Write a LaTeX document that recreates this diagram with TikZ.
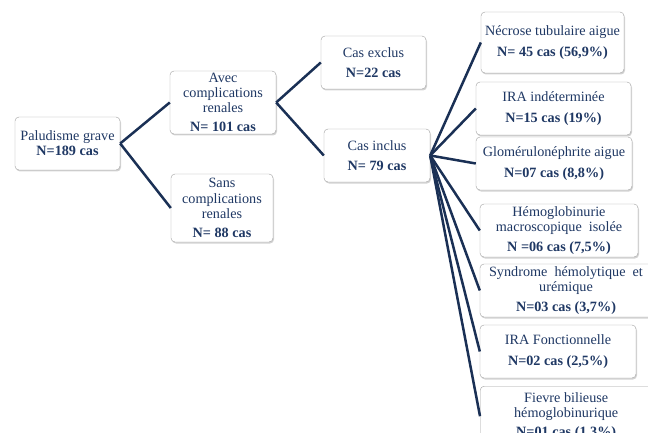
\documentclass[tikz,border=0pt]{standalone}
\usepackage{fontspec}
\setmainfont{Liberation Serif}
\usetikzlibrary{shadows}
\definecolor{navy}{HTML}{1F3864}
\definecolor{boxline}{HTML}{A0A0A0}
\tikzset{
  box/.style={draw=boxline, fill=white, rounded corners=4pt, align=center,
    text=navy, font=\fontsize{14.2}{15.2}\selectfont, inner sep=0pt,
    drop shadow={shadow xshift=1pt, shadow yshift=-1.5pt, opacity=0.35}},
  link/.style={draw=navy!85!black, line width=2.5pt}
}
\begin{document}
\begin{tikzpicture}[x=1pt, y=-1pt]
  \useasboundingbox (0,0) rectangle (648,433);
  \clip (0,0) rectangle (648,433);
  % first level
  \node[box, minimum width=105, minimum height=53] (pg) at (67.5,143.5) {Paludisme grave\\\textbf{N=189 cas}};
  \node[box, minimum width=106, minimum height=63] (avec) at (223,102.5) {Avec\\complications\\renales\\[4pt]\textbf{N= 101 cas}};
  \node[box, minimum width=102, minimum height=68] (sans) at (222,208) {Sans\\complications\\renales\\[4pt]\textbf{N= 88 cas}};
  % second level
  \node[box, minimum width=105, minimum height=53] (exclus) at (373.5,62.5) {Cas exclus\\[5pt]\textbf{N=22 cas}};
  \node[box, minimum width=106, minimum height=53] (inclus) at (377,155.5) {Cas inclus\\[5pt]\textbf{N= 79 cas}};
  % inclus
  \node[box, minimum width=143, minimum height=61] (necrose) at (552.5,42.5) {Nécrose tubulaire aigue\\[5pt]\textbf{N= 45 cas (56,9\%)}};
  \node[box, minimum width=155, minimum height=53] (iraind) at (553.5,108.5) {IRA indéterminée\\[5pt]\textbf{N=15 cas (19\%)}};
  \node[box, minimum width=156, minimum height=53] (glom) at (554,163.5) {Glomérulonéphrite aigue\\[5pt]\textbf{N=07 cas (8,8\%)}};
  \node[box, minimum width=158, minimum height=53] (hemo) at (559,230.5) {Hémoglobinurie\\macroscopique~ isolée\\[4pt]\textbf{N =06 cas (7,5\%)}};
  \node[box, minimum width=172, minimum height=53] (syndrome) at (566,290.5) {Syndrome~ hémolytique~ et\\urémique\\[4pt]\textbf{N=03 cas (3,7\%)}};
  \node[box, minimum width=156, minimum height=53] (irafonct) at (558,351.5) {IRA Fonctionnelle\\[5pt]\textbf{N=02 cas (2,5\%)}};
  \node[box, minimum width=172, minimum height=60, anchor=north west] (fievre) at (480,386) {Fievre bilieuse\\hémoglobinurique\\[4pt]\textbf{N=01 cas (1,3\%)}};
  % connectors
  \draw[link] (pg.east) -- (avec.west);
  \draw[link] (pg.east) -- (sans.west);
  \draw[link] (avec.east) -- (exclus.west);
  \draw[link] (avec.east) -- (inclus.west);
  \foreach \n in {necrose,iraind,glom,hemo,syndrome,irafonct,fievre}
    \draw[link] (inclus.east) -- (\n.west);
\end{tikzpicture}
\end{document}
